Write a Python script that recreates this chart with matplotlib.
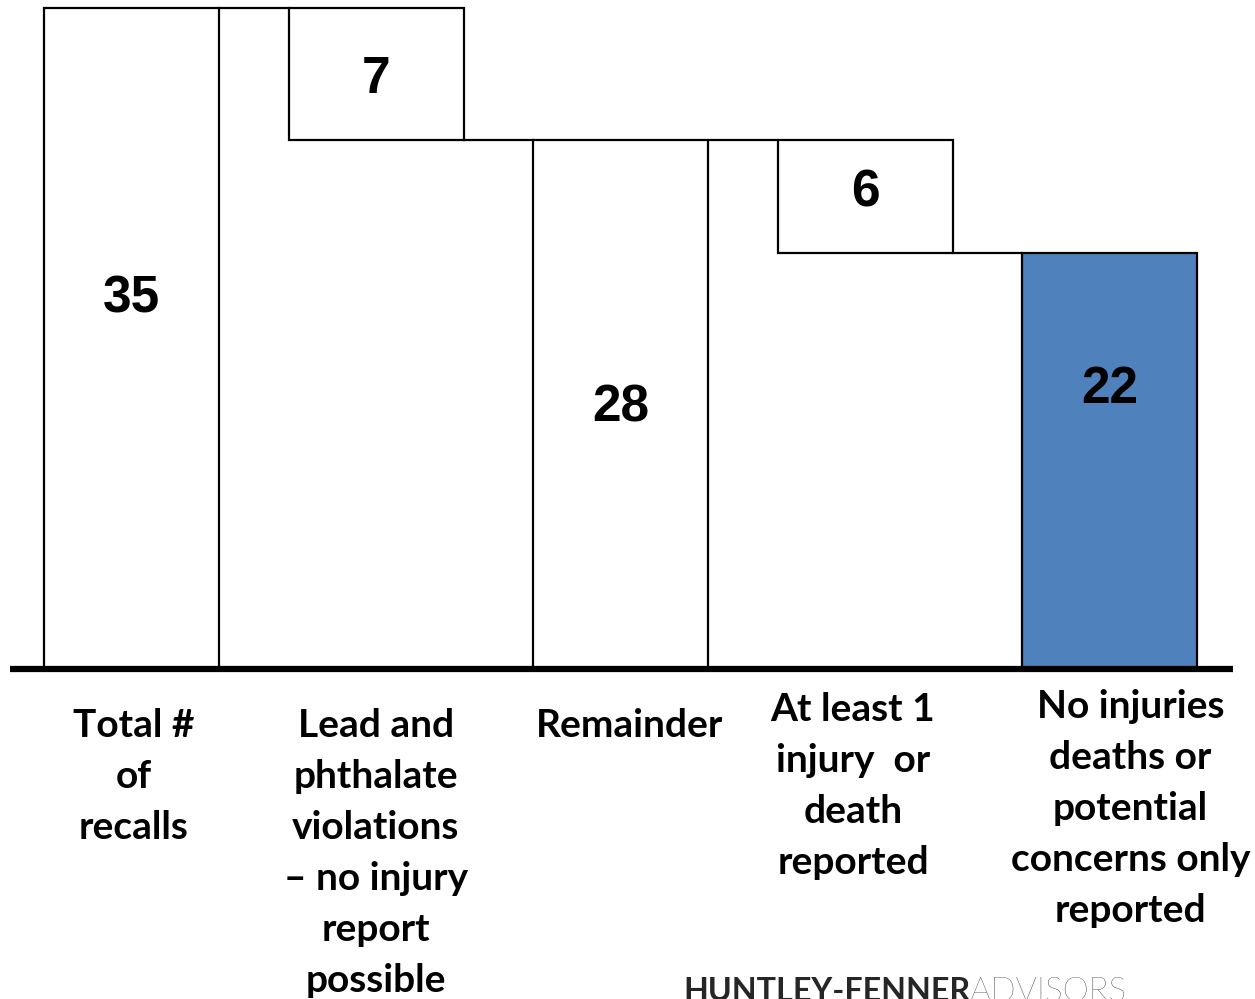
import matplotlib.pyplot as plt

categories = [
    "Total #\nof\nrecalls",
    "Lead and\nphthalate\nviolations\n\u2013 no injury\nreport\npossible",
    "Remainder",
    "At least 1\ninjury  or\ndeath\nreported",
    "No injuries\ndeaths or\npotential\nconcerns only\nreported",
]
values = [35, 7, 28, 6, 22]
kinds = ["total", "decrease", "total", "decrease", "total"]

# layout (pixel-based figure)
label_y = [19.6, 31.2, 13.8, 25.2, 14.8]
cat_top = [708, 708, 708, 692, 689]   # pixels from top
cat_dx = [2, 0, 9, -12, 21]           # pixel nudges
px_per_unit = 18.89
base_px = 669
step_px = 244.5
bar_w = 175 / step_px

fig = plt.figure(figsize=(12.55, 9.99), dpi=100)
ax = fig.add_axes([0, 0, 1, 1])
ax.set_xlim(-131.5 / step_px, (1255 - 131.5) / step_px)
ax.set_ylim(-(999 - base_px) / px_per_unit, base_px / px_per_unit)
ax.axis("off")


def py(p):
    # pixel row from top -> data y
    return (base_px - p) / px_per_unit


def px(p):
    # pixel column -> data x
    return (p - 131.5) / step_px


bottoms, levels = [], []
run = 0
for v, k in zip(values, kinds):
    if k == "total":
        bottoms.append(0)
        run = v
    else:
        bottoms.append(run - v)
        run = run - v
    levels.append(run)

colors = ["white"] * (len(values) - 1) + ["#4F81BD"]
xs = list(range(len(values)))
ax.bar(xs, values, bottom=bottoms, width=bar_w, color=colors,
       edgecolor="black", linewidth=1.6, zorder=2)

for i in range(len(values) - 1):
    lvl = levels[i]
    ax.plot([i + bar_w / 2, i + 1 - bar_w / 2], [lvl, lvl],
            color="black", lw=1.6, zorder=1)

ax.plot([px(10), px(1233)], [0, 0],
        color="black", lw=4.5, solid_capstyle="butt", zorder=3)

for i, v in enumerate(values):
    ax.text(i, label_y[i], str(v), ha="center", va="center",
            fontsize=37, fontweight="bold", family="Liberation Sans", zorder=4)

for i, c in enumerate(categories):
    ax.text(i + cat_dx[i] / step_px, py(cat_top[i]), c, ha="center", va="top",
            fontsize=28, fontweight="bold", family="Lato", linespacing=1.555)

ax.text(px(683), py(1001), "HUNTLEY-FENNER", ha="left",
        va="baseline", fontsize=23.2, fontweight="bold", family="Lato",
        color="#262626")
ax.text(px(1126), py(1001), "ADVISORS", ha="right",
        va="baseline", fontsize=24, fontweight="light", family="Lato",
        color="#1a1a1a")

fig.savefig("out.png", dpi=100)
